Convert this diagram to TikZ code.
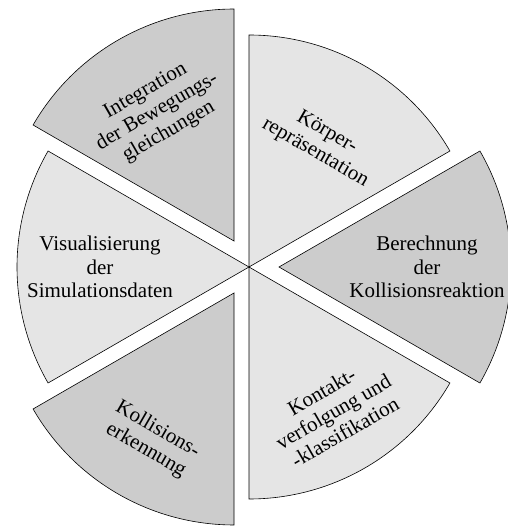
\documentclass[tikz,border=0pt]{standalone}
\usepackage{fontspec}
\setmainfont{Liberation Serif}
\begin{document}
\begin{tikzpicture}[x=1pt, y=1pt,
  wedge/.style={draw=black, line width=0.6pt},
  lightw/.style={wedge, fill=gray!20},
  darkw/.style={wedge, fill=gray!40},
  lbl/.style={align=center, font=\fontsize{21}{23.4}\selectfont, inner sep=0pt},
]
\useasboundingbox (-249,-265) rectangle (258,267);

% apex points: light sectors meet in the centre, dark ones are pushed out
\coordinate (O) at (0,0);
\coordinate (Oint) at (120:30);
\coordinate (Oerk) at (240:30);
\coordinate (Oreak) at (0:30);

% light sectors
\filldraw[lightw] (O) -- ++(30:232) arc[start angle=30, end angle=90, radius=232] -- cycle;
\filldraw[lightw] (O) -- ++(150:232) arc[start angle=150, end angle=210, radius=232] -- cycle;
\filldraw[lightw] (O) -- ++(270:232) arc[start angle=270, end angle=330, radius=232] -- cycle;

% dark sectors
\filldraw[darkw] (Oint) -- ++(90:232) arc[start angle=90, end angle=150, radius=232] -- cycle;
\filldraw[darkw] (Oerk) -- ++(210:232) arc[start angle=210, end angle=270, radius=232] -- cycle;
\filldraw[darkw] (Oreak) -- ++(-30:232) arc[start angle=-30, end angle=30, radius=232] -- cycle;

% labels
\node[lbl, rotate=-30] (koerper) at (72,124.3) {Körper-\\repräsentation};
\node[lbl] (reaktion) at (178,0) {Berechnung\\der\\Kollisionsreaktion};
\node[lbl, rotate=30] (kontakt) at (84.3,-144.7) {Kontakt-\\verfolgung und\\-klassifikation};
\node[lbl, rotate=-30] (erkennung) at (-97.3,-173) {Kollisions-\\erkennung};
\node[lbl] (visual) at (-149,0) {Visualisierung\\der\\Simulationsdaten};
\node[lbl, rotate=30] (integration) at (-91.7,155.3) {Integration\\der Bewegungs-\\gleichungen};
\end{tikzpicture}
\end{document}
